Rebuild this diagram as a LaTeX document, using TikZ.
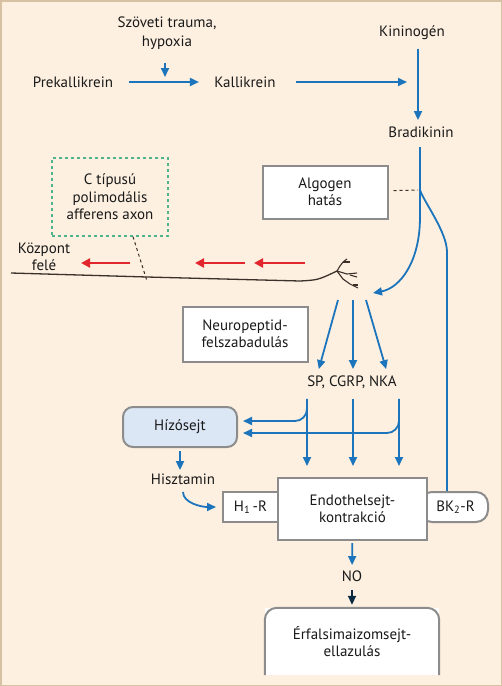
\documentclass[tikz,border=0pt]{standalone}
\usepackage{fontspec}
\setmainfont{PT Sans}
\usepackage{tikz}
\usetikzlibrary{arrows.meta,calc}
\definecolor{Hatter}{HTML}{FDF0E0}
\definecolor{Keret}{HTML}{D6C2A2}
\definecolor{Kek}{HTML}{1C75BC}
\definecolor{Szurke}{HTML}{8C8C8C}
\definecolor{Piros}{HTML}{E1262D}
\definecolor{Zold}{HTML}{4DB48C}
\definecolor{Hizo}{HTML}{DCE7F6}
\definecolor{Barna}{HTML}{3B302A}
\tikzset{
  doboz/.style={draw=Szurke, line width=2pt, fill=white, align=center, inner sep=0pt},
  nyil/.style={draw=Kek, line width=1.8pt, -{Triangle[length=9pt,width=8pt]}},
  piros/.style={draw=Piros, line width=2.4pt, -{Triangle[length=9pt,width=9pt]}},
}

\begin{document}
\begin{tikzpicture}[x=1pt,y=-1pt,font=\fontsize{15}{17.5}\selectfont,text=black!90]
        %Háttér
        \fill[Hatter] (0,0) rectangle (502,686);
        \draw[Keret, line width=1.5pt] (0.75,0.75) rectangle (501.25,685.25);
        \useasboundingbox (0,0) rectangle (502,686);
        %Szövegek
        \node[align=center, font=\fontsize{15}{19}\selectfont] (trauma) at (167,33) {Szöveti trauma,\\hypoxia};
        \node (prek) at (73,82) {Prekallikrein};
        \node (kall) at (245,82) {Kallikrein};
        \node (kinin) at (412,33) {Kininogén};
        \node (bradi) at (421,132) {Bradikinin};
        \node[align=center] (kozpont) at (44,257) {Központ\\felé};
        \node (sp) at (352,382) {SP, CGRP, NKA};
        \node (hiszt) at (183,479) {Hisztamin};
        \node (no) at (352,576) {NO};
        %Dobozok
        \node[doboz, minimum width=125pt, minimum height=53pt] (algogen) at (325,192) {Algogen\\hatás};
        \node[draw=Zold, dashed, line width=1.2pt, minimum width=116pt, minimum height=78pt, align=center, inner sep=0pt] (cbox) at (110,197) {C típusú\\polimodális\\afferens axon};
        \node[doboz, minimum width=125pt, minimum height=55pt] (neuro) at (245,334) {Neuropeptid-\\felszabadulás};
        \node[doboz, fill=Hizo, rounded corners=10pt, minimum width=114pt, minimum height=40pt] (hizo) at (180,427) {Hízósejt};
        \node[doboz, minimum width=55pt, minimum height=30pt] (h1r) at (250.5,507) {H\textsubscript{1}\,-R};
        \node[doboz, rounded corners=12pt, minimum width=68pt, minimum height=30pt] (bk2) at (454,507) {\hspace{3pt}BK\textsubscript{2}-R};
        \node[doboz, minimum width=149pt, minimum height=62pt] (endo) at (352.5,509) {Endothelsejt-\\kontrakció};
        \node[fill=white, minimum width=174pt, minimum height=67pt, align=center, inner sep=0pt] (erfal) at (352,641.5) {Érfalsimaizomsejt-\\ellazulás};
        \draw[Szurke, line width=2pt, rounded corners=12pt] (erfal.south west) -- (erfal.north west) -- (erfal.north east) -- (erfal.south east);
        %Kallikrein-kinin út
        \coordinate (tr) at (165,77);
        \coordinate (kk) at (407,82);
        \coordinate (split) at (420,190);
        \coordinate (dtip) at (373,293);
        \coordinate (bkin) at (447,252);
        \draw[nyil, shorten <=10pt] (trauma.south -| tr) -- (tr);
        \draw[nyil, shorten <=12pt, shorten >=12pt] (prek) -- (kall);
        \draw[nyil, shorten <=17pt] (kall) -- (kk);
        \draw[nyil, shorten <=5pt, shorten >=3pt] ([xshift=6pt]kinin.south) -- ([xshift=-3pt]bradi.north);
        \draw[Kek, line width=1.8pt, shorten <=6pt] ([xshift=-1pt]bradi.south) -- (split);
        \draw[dashed, line width=1pt, Barna, shorten <=5pt, shorten >=2pt] (algogen) -- (split);
        \draw[nyil] (split) -- ++(0,27) .. controls (420,262) and (400,288) .. (dtip);
        \draw[Kek, line width=1.8pt] (split) .. controls (424,202) and (447,232) .. (bkin) -- (bkin |- bk2.north);
        %Axon
        \coordinate (ax) at (147,277);
        \coordinate (A) at (337,271);
        \draw[Barna, line width=1.3pt] (11,273) -- (ax) -- (300,281) .. controls (318,280) .. (A);
        \draw[Barna, line width=1.1pt] (A) -- (340,266) -- (343,262) -- (347,259);
        \draw[Barna, line width=1.1pt] (343,262) -- (350,262);
        \draw[Barna, line width=1.1pt] (A) -- (347,274) -- (357,273);
        \draw[Barna, line width=1.1pt] (350,275) -- (357,277);
        \draw[Barna, line width=1.1pt] (A) -- (343,279) -- (350,284) -- (358,288);
        \draw[Barna, line width=1.1pt] (353,285) -- (358,285);
        \draw[dashed, line width=1pt, Barna] ([xshift=23pt]cbox.south) -- ([yshift=-4pt]ax);
        \draw[piros] (130,263) -- (81,263);
        \draw[piros] (245,263) -- (195,263);
        \draw[piros] (305,263) -- (254,263);
        %Neuropeptidek
        \coordinate (d1) at (338,300);
        \coordinate (d2) at (353,300);
        \coordinate (d3) at (366,300);
        \draw[nyil, shorten >=3pt] (d1) -- ([xshift=-34pt]sp.north);
        \draw[nyil, shorten >=3pt] (d2) -- ([xshift=1pt]sp.north);
        \draw[nyil, shorten >=3pt] (d3) -- ([xshift=35pt]sp.north);
        \coordinate (s1) at ([xshift=-45pt,yshift=-7pt]sp.south);
        \coordinate (s2) at ([xshift=1pt,yshift=-7pt]sp.south);
        \coordinate (s3) at ([xshift=47pt,yshift=-7pt]sp.south);
        \draw[nyil, shorten >=11pt] (s1) -- (s1 |- endo.north);
        \draw[nyil, shorten >=11pt] (s2) -- (s2 |- endo.north);
        \draw[nyil, shorten >=11pt] (s3) -- (s3 |- endo.north);
        \draw[nyil, rounded corners=12pt, shorten >=5pt] (s1) |- ([yshift=6pt]hizo.east);
        \draw[nyil, rounded corners=12pt, shorten >=5pt] (s3) |- ([yshift=-6pt]hizo.east);
        %Hízósejt, endothel
        \draw[nyil, shorten <=3pt] (hizo.south) -- (hizo.south |- hiszt.north);
        \draw[nyil, shorten <=4pt] (hiszt.south) to[out=-90,in=180] ([xshift=-6pt]h1r.west);
        \draw[nyil, shorten <=2pt, shorten >=2pt] (endo) -- (no);
        \draw[nyil, draw=Kek!35!black, shorten <=5pt, shorten >=3pt] (no) -- (erfal.north);
    \end{tikzpicture}
\end{document}
